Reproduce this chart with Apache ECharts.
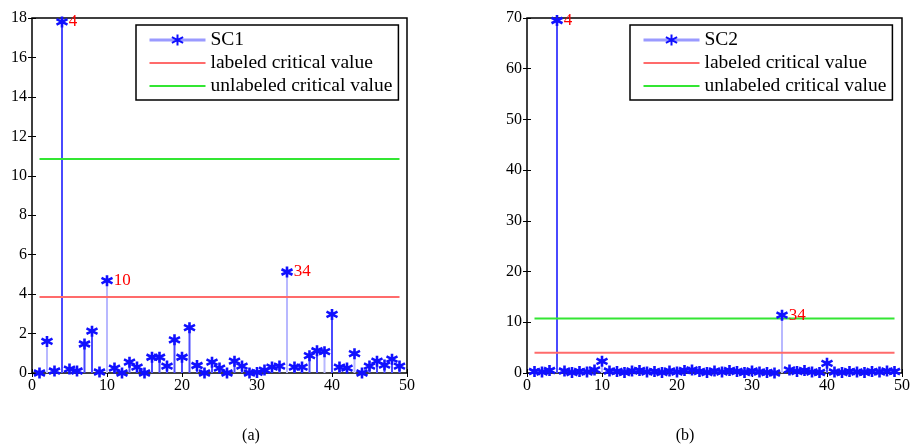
<!DOCTYPE html>
<html>
<head>
<meta charset="utf-8">
<script src="https://cdn.jsdelivr.net/npm/echarts@6/dist/echarts.min.js"></script>
<style>
  html, body { margin: 0; padding: 0; background: #fff; }
  #chart { width: 913px; height: 445px; }
</style>
</head>
<body>
<div id="chart"></div>
<script>
// sample index 1..49
const sampleIds = Array.from({ length: 49 }, (_, i) => i + 1)
// panel (a) statistic
const sc1Values = [0, 1.6, 0.1, 17.8, 0.2, 0.1, 1.47, 2.12, 0.05, 4.68,
  0.25, 0, 0.55, 0.3, 0, 0.8, 0.8, 0.35, 1.68, 0.8,
  2.3, 0.38, 0, 0.55, 0.25, 0, 0.6, 0.35, 0, 0.03,
  0.15, 0.3, 0.35, 5.12, 0.3, 0.3, 0.88, 1.13, 1.08, 2.97,
  0.3, 0.25, 0.98, 0, 0.35, 0.6, 0.4, 0.7, 0.35]
// panel (b) statistic
const sc2Values = [0.3, 0.2, 0.5, 69.5, 0.4, 0.1, 0.3, 0.2, 0.6, 2.3,
  0.4, 0.3, 0.1, 0.4, 0.5, 0.2, 0.3, 0.1, 0.4, 0.2,
  0.5, 0.6, 0.3, 0.1, 0.4, 0.2, 0.5, 0.3, 0.1, 0.4,
  0.2, 0.1, 0, 11.4, 0.6, 0.3, 0.5, 0.2, 0.1, 1.9,
  0.2, 0.1, 0.3, 0.2, 0.1, 0.3, 0.2, 0.4, 0.3]
// samples drawn with pale stems
const paleStems = [2, 10, 34, 39, 43]
// samples annotated in red
const sc1Flags = [4, 10, 34]
const sc2Flags = [4, 34]
// critical values
const sc1Labeled = 3.85
const sc1Unlabeled = 10.85
const sc2Labeled = 4.0
const sc2Unlabeled = 10.75
const lineRange = [1, 49]

const font = "'Liberation Serif', 'DejaVu Serif', serif"
const asterisk = 'path://M0,-5L0,5M-4.33,-2.5L4.33,2.5M-4.33,2.5L4.33,-2.5'

const chart = echarts.init(document.getElementById('chart'))

function stemSeries(values, idx) {
  return {
    type: 'custom',
    xAxisIndex: idx,
    yAxisIndex: idx,
    silent: true,
    z: 1,
    data: values.map((v, i) => [sampleIds[i], v, paleStems.includes(sampleIds[i]) ? 1 : 0]),
    renderItem(params, api) {
      const p0 = api.coord([api.value(0), 0])
      const p1 = api.coord([api.value(0), api.value(1)])
      return {
        type: 'line',
        shape: { x1: p0[0], y1: p0[1], x2: p1[0], y2: p1[1] },
        style: { stroke: api.value(2) ? '#b8b8ff' : '#4a4aff', lineWidth: 2 }
      }
    }
  }
}

function pointSeries(name, values, flags, idx) {
  return {
    name: name,
    type: 'line',
    xAxisIndex: idx,
    yAxisIndex: idx,
    z: 3,
    symbol: asterisk,
    symbolSize: 11,
    showAllSymbol: true,
    lineStyle: { width: 0, opacity: 0 },
    itemStyle: { color: '#1010ff', borderColor: '#1010ff', borderWidth: 2.6 },
    data: values.map((v, i) => {
      const item = { value: [sampleIds[i], v] }
      if (flags.includes(sampleIds[i])) {
        item.label = {
          show: true, position: 'right', distance: 0,
          formatter: String(sampleIds[i]),
          color: '#ff0000', fontSize: 17, fontFamily: font
        }
      }
      return item
    })
  }
}

function critSeries(name, value, color, idx) {
  return {
    name: name,
    type: 'line',
    xAxisIndex: idx,
    yAxisIndex: idx,
    symbol: 'none',
    silent: true,
    z: 2,
    lineStyle: { color: color, width: 2 },
    itemStyle: { color: color },
    data: lineRange.map(x => [x, value])
  }
}

function xAx(grid, top) {
  return {
    type: 'value', gridIndex: grid, min: 0, max: 50, interval: 10,
    position: top ? 'top' : 'bottom',
    splitLine: { show: false },
    axisLine: { show: false },
    axisTick: { show: true, inside: true, length: 4, lineStyle: { color: '#000' } },
    axisLabel: { show: !top, color: '#000', fontSize: 16, fontFamily: font, margin: 5 }
  }
}

function yAx(grid, max, step, right) {
  return {
    type: 'value', gridIndex: grid, min: 0, max: max, interval: step,
    position: right ? 'right' : 'left',
    splitLine: { show: false },
    axisLine: { show: false },
    axisTick: { show: true, inside: true, length: 4, lineStyle: { color: '#000' } },
    axisLabel: { show: !right, color: '#000', fontSize: 16, fontFamily: font, margin: 5 }
  }
}

function legendFor(name, left) {
  return {
    orient: 'vertical',
    left: left,
    top: 25,
    padding: [5, 6, 4, 12],
    itemGap: 3,
    itemWidth: 56,
    itemHeight: 14,
    backgroundColor: '#fff',
    borderColor: '#000',
    borderWidth: 1.5,
    borderRadius: 0,
    selectedMode: false,
    textStyle: { color: '#000', fontSize: 19.5, fontFamily: font },
    data: [
      { name: name, lineStyle: { color: '#9a9aff', width: 3, opacity: 1 } },
      { name: 'labeled critical value', itemStyle: { opacity: 0 } },
      { name: 'unlabeled critical value', itemStyle: { opacity: 0 } }
    ]
  }
}

const option = {
  animation: false,
  backgroundColor: '#fff',
  title: [
    { text: '(a)', left: 246, top: 423, textAlign: 'center', textStyle: { fontSize: 16, fontWeight: 'normal', color: '#000', fontFamily: font } },
    { text: '(b)', left: 680, top: 423, textAlign: 'center', textStyle: { fontSize: 16, fontWeight: 'normal', color: '#000', fontFamily: font } }
  ],
  grid: [
    { left: 32, top: 18, width: 375, height: 355, show: true, borderColor: '#000', borderWidth: 1.5 },
    { left: 527, top: 18, width: 376, height: 355, show: true, borderColor: '#000', borderWidth: 1.5 }
  ],
  xAxis: [xAx(0, false), xAx(1, false), xAx(0, true), xAx(1, true)],
  yAxis: [yAx(0, 18, 2, false), yAx(1, 70, 10, false), yAx(0, 18, 2, true), yAx(1, 70, 10, true)],
  legend: [legendFor('SC1', 136), legendFor('SC2', 630)],
  series: [
    stemSeries(sc1Values, 0),
    pointSeries('SC1', sc1Values, sc1Flags, 0),
    critSeries('labeled critical value', sc1Labeled, '#ff6b6b', 0),
    critSeries('unlabeled critical value', sc1Unlabeled, '#33e633', 0),
    stemSeries(sc2Values, 1),
    pointSeries('SC2', sc2Values, sc2Flags, 1),
    critSeries('labeled critical value', sc2Labeled, '#ff6b6b', 1),
    critSeries('unlabeled critical value', sc2Unlabeled, '#33e633', 1)
  ]
}

chart.setOption(option)
</script>
</body>
</html>
